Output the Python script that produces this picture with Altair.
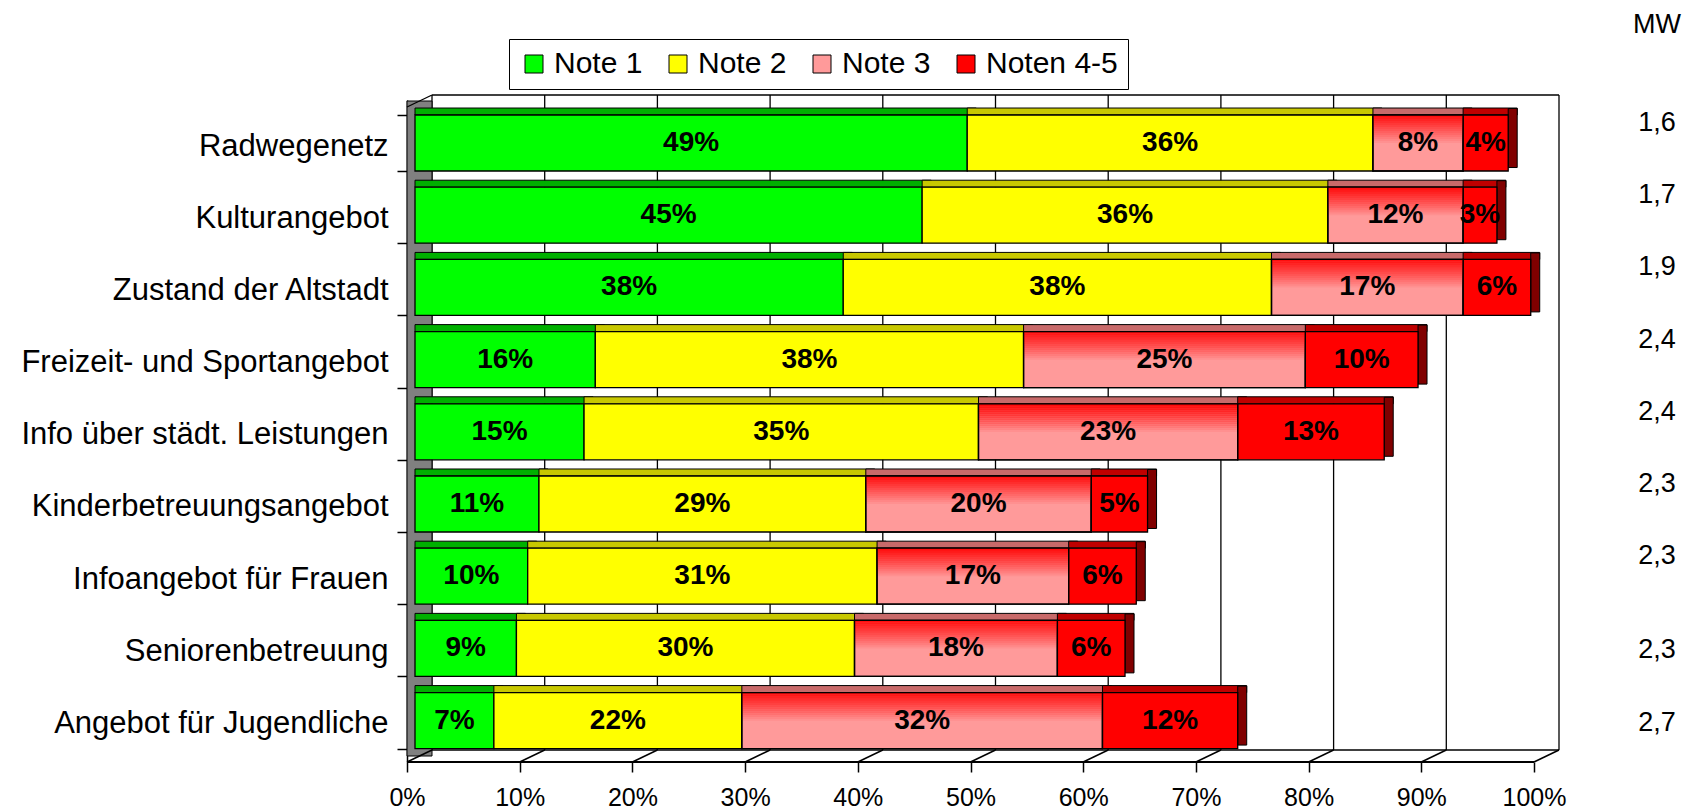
import altair as alt
import pandas as pd

# ---------------- data ----------------
categories = [
    "Radwegenetz",
    "Kulturangebot",
    "Zustand der Altstadt",
    "Freizeit- und Sportangebot",
    "Info über städt. Leistungen",
    "Kinderbetreuungsangebot",
    "Infoangebot für Frauen",
    "Seniorenbetreuung",
    "Angebot für Jugendliche",
]
note1 = [49, 45, 38, 16, 15, 11, 10, 9, 7]
note2 = [36, 36, 38, 38, 35, 29, 31, 30, 22]
note3 = [8, 12, 17, 25, 23, 20, 17, 18, 32]
note45 = [4, 3, 6, 10, 13, 5, 6, 6, 12]
mw_values = ["1,6", "1,7", "1,9", "2,4", "2,4", "2,3", "2,3", "2,3", "2,7"]
mw_header = ["MW"]
series = ["Note 1", "Note 2", "Note 3", "Noten 4-5"]
tick_values = [0, 10, 20, 30, 40, 50, 60, 70, 80, 90, 100]

front_colors = ["#00FF00", "#FFFF00", "#FF9A9A", "#FF0000"]
top_colors = ["#00B000", "#C8C800", "#C86A6A", "#C00000"]

FONT = "Liberation Sans"

rows = []
for i, cat in enumerate(categories):
    vals = [note1[i], note2[i], note3[i], note45[i]]
    start = 0
    for j, (s, v) in enumerate(zip(series, vals)):
        rows.append(dict(cat=cat, series=s, order=j, start=start, end=start + v,
                         mid=start + v / 2, label=f"{v}%", last=(j == 3)))
        start += v
df = pd.DataFrame(rows)
mw_df = pd.DataFrame({"cat": categories, "mw": mw_values, "xpos": tick_values[-1]})
ticks_df = pd.DataFrame({"t": tick_values})
frame_df = pd.DataFrame({"x0": [tick_values[0]], "x1": [tick_values[-1]]})
head_df = pd.DataFrame({"t": mw_header, "xpos": [tick_values[-1]]})

xscale = alt.Scale(domain=[0, 100], nice=False, zero=True)
yscale = alt.Scale(domain=categories, paddingInner=0.2244, paddingOuter=0.197, align=0.528)


def X(field):
    return alt.X(field, scale=xscale, title=None)


def Y(axis=None):
    if axis is None:
        return alt.Y("cat:N", sort=categories, scale=yscale, title=None)
    return alt.Y("cat:N", sort=categories, scale=yscale, axis=axis, title=None)


# ---------------- 3D frame decoration ----------------
grid = alt.Chart(ticks_df).mark_rule(color="black", strokeWidth=1.3, xOffset=17).encode(
    x=X("t:Q"), y=alt.value(-5), y2=alt.value(650))

wall_top = alt.Chart(frame_df).mark_rule(color="black", strokeWidth=1.3, xOffset=17, x2Offset=17).encode(
    x=X("x0:Q"), x2="x1:Q", y=alt.value(-5))
wall_bottom = alt.Chart(frame_df).mark_rule(color="black", strokeWidth=1.3, xOffset=17, x2Offset=17).encode(
    x=X("x0:Q"), x2="x1:Q", y=alt.value(650))

side_wall = alt.Chart(frame_df).mark_rect(color="#808080", stroke="black", strokeWidth=1,
                                          xOffset=-8, x2Offset=17).encode(
    x=X("x0:Q"), x2="x0:Q", y=alt.value(1), y2=alt.value(656))
side_wall_top = alt.Chart(frame_df).mark_rule(color="black", strokeWidth=1.3, xOffset=-8, x2Offset=17).encode(
    x=X("x0:Q"), x2="x0:Q", y=alt.value(7), y2=alt.value(-5))

floor_slants = alt.Chart(ticks_df).mark_rule(color="black", strokeWidth=1.5, xOffset=-8, x2Offset=17).encode(
    x=X("t:Q"), x2="t:Q", y=alt.value(662), y2=alt.value(650))
floor_front = alt.Chart(frame_df).mark_rule(color="black", strokeWidth=2, xOffset=-8, x2Offset=-8).encode(
    x=X("x0:Q"), x2="x1:Q", y=alt.value(662))

# ---------------- bars ----------------
top_layers = []
for s, c in zip(series, top_colors):
    top_layers.append(
        alt.Chart(df).transform_filter(alt.datum.series == s).mark_bar(
            height=7, yOffset=-31.5, x2Offset=9, color=c, stroke="black", strokeWidth=1).encode(
            x=X("start:Q"), x2="end:Q", y=Y()))

side_faces = alt.Chart(df).transform_filter("datum.last").mark_bar(
    height=59, yOffset=-5, x2Offset=9, color="#800000", stroke="black", strokeWidth=1).encode(
    x=X("end:Q"), x2="end:Q", y=Y())

front = alt.Chart(df).mark_bar(stroke="black", strokeWidth=1.3).encode(
    x=alt.X("start:Q", scale=xscale, title=None,
            axis=alt.Axis(values=tick_values, labelExpr="datum.value + '%'", domain=False,
                          grid=False, tickSize=10, tickOffset=-8,
                          labelFlush=False, labelOverlap=False,
                          tickColor="black", tickWidth=1.5, labelFontSize=25,
                          labelFont=FONT, labelColor="black", labelPadding=13)),
    x2="end:Q",
    y=Y(alt.Axis(tickBand="extent", tickSize=10, offset=8, domainColor="black", domainWidth=1.5,
                 tickColor="black", tickWidth=1.5, labelFontSize=31, labelFont=FONT,
                 labelColor="black", labelPadding=9, labelLimit=600, labelOffset=3)),
    color=alt.Color("series:N", scale=alt.Scale(domain=series, range=front_colors),
                    legend=alt.Legend(title=None, orient="none", legendX=94, legendY=-61,
                                      direction="horizontal", labelFontSize=30, labelFont=FONT,
                                      labelColor="black", symbolType="square", symbolSize=324,
                                      symbolStrokeColor="black", symbolStrokeWidth=1,
                                      strokeColor="black", fillColor="white", padding=10,
                                      columnPadding=20, labelOffset=5)),
    order="order:Q")

# red-to-pink shading at the top of the "Note 3" faces (approximates a gradient)
note3_df = df[df["series"] == "Note 3"]
shade_layers = []
n_strips = 14
for k in range(n_strips):
    op = 0.9 * (1 - k / n_strips)
    shade_layers.append(
        alt.Chart(note3_df).mark_bar(height=2.2, yOffset=-28 + 2 * k + 1, color="#FF0000",
                                     opacity=op, strokeWidth=0).encode(
            x=X("start:Q"), x2="end:Q", y=Y()))
note3_outline = alt.Chart(note3_df).mark_bar(fillOpacity=0, stroke="black", strokeWidth=1.3).encode(
    x=X("start:Q"), x2="end:Q", y=Y())

labels = alt.Chart(df).mark_text(font=FONT, fontSize=28, fontWeight="bold", color="black").encode(
    x=X("mid:Q"), y=Y(), text="label:N")

# ---------------- MW column ----------------
mw_a = alt.Chart(mw_df).transform_filter(
    alt.FieldOneOfPredicate(field="cat", oneOf=categories[:7])).mark_text(
    font=FONT, fontSize=27, color="black", xOffset=115, yOffset=-20).encode(
    x=X("xpos:Q"), y=Y(), text="mw:N")
mw_b = alt.Chart(mw_df).transform_filter(
    alt.FieldOneOfPredicate(field="cat", oneOf=categories[7:])).mark_text(
    font=FONT, fontSize=27, color="black", xOffset=115, yOffset=2).encode(
    x=X("xpos:Q"), y=Y(), text="mw:N")
mw_head = alt.Chart(head_df).mark_text(font=FONT, fontSize=27, color="black", xOffset=115).encode(
    x=X("xpos:Q"), y=alt.value(-75), text="t:N")

chart = alt.layer(
    grid, wall_top, wall_bottom, side_wall, side_wall_top, floor_slants, floor_front,
    *top_layers, side_faces, front, *shade_layers, note3_outline, labels, mw_a, mw_b, mw_head
).properties(
    width=1127, height=662,
    padding={"left": 407, "top": 92, "right": 148, "bottom": 50},
    autosize=alt.AutoSizeParams(type="none"),
    background="white",
).configure_view(stroke=None)

chart.save("out.html", embed_options={"renderer": "svg", "actions": False})
